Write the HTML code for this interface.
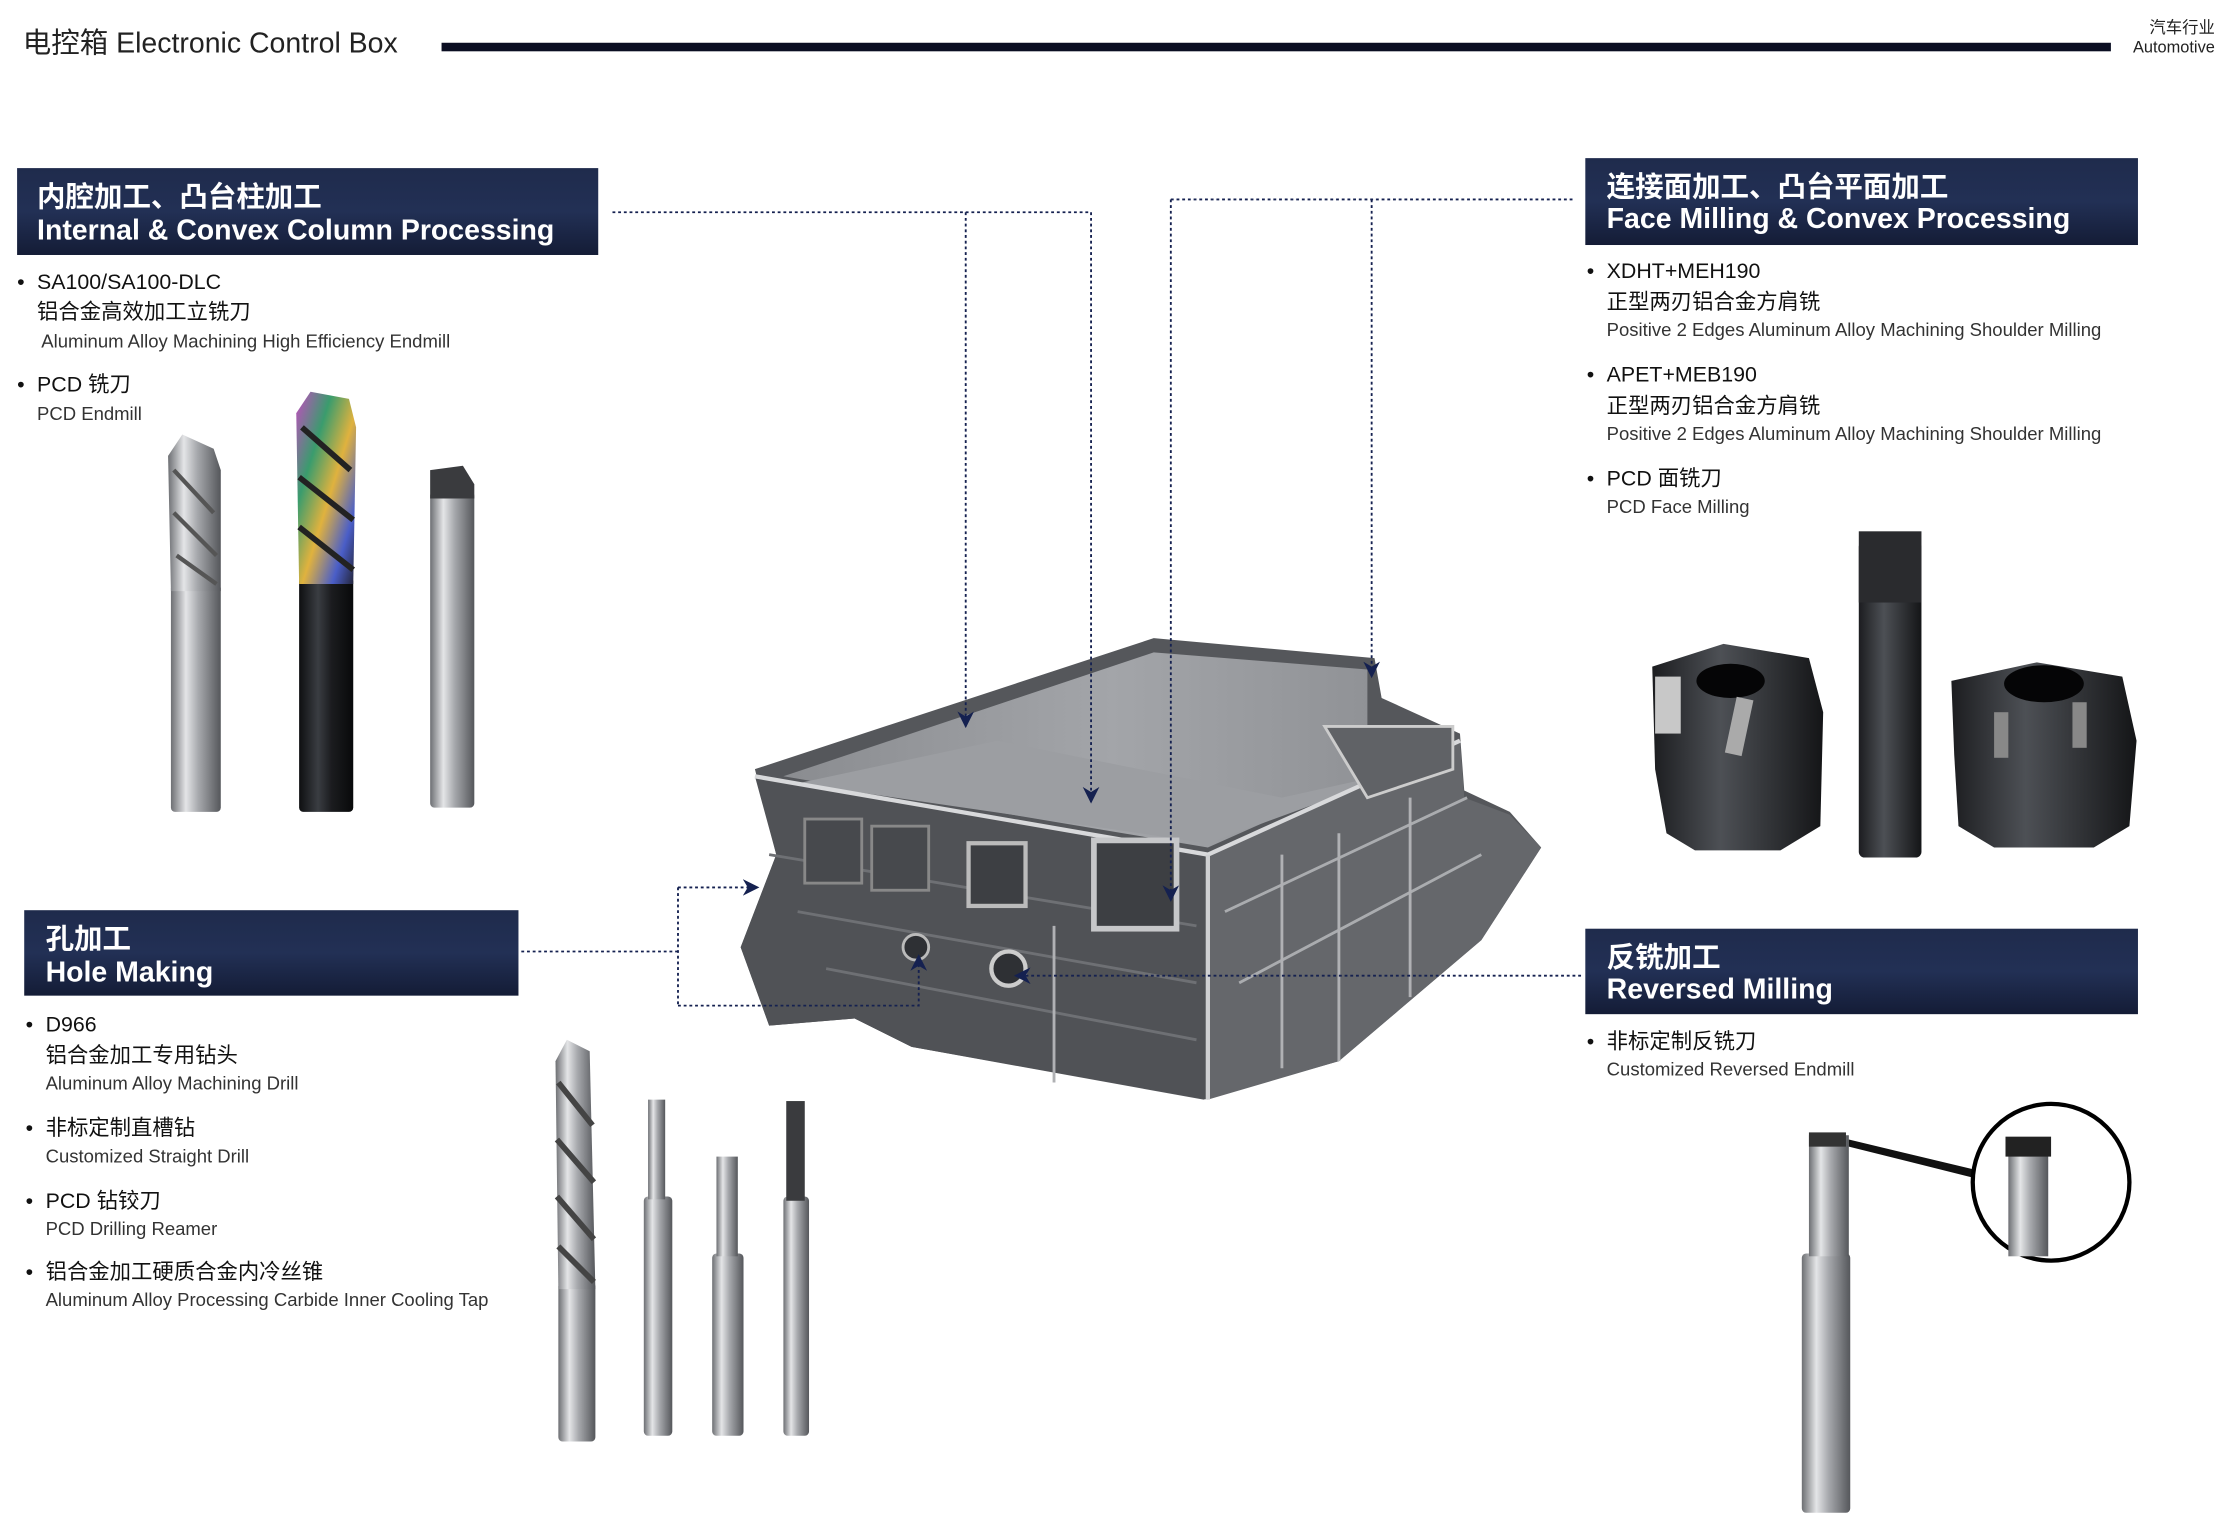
<!DOCTYPE html>
<html><head><meta charset="utf-8"><style>
html,body{margin:0;padding:0;background:#fff;}
svg{display:block;}
text{font-family:"Liberation Sans","Noto Sans CJK SC",sans-serif;}
</style></head><body>
<svg width="2222" height="1516" viewBox="0 0 1560 1064.3" xmlns="http://www.w3.org/2000/svg">
<defs>
<linearGradient id="box" x1="0" y1="0" x2="0" y2="1"><stop offset="0" stop-color="#1f2b4c"/><stop offset="0.5" stop-color="#223055"/><stop offset="1" stop-color="#141c36"/></linearGradient>
<linearGradient id="steel" x1="0" y1="0" x2="1" y2="0"><stop offset="0" stop-color="#6d6f73"/><stop offset="0.3" stop-color="#e4e5e7"/><stop offset="0.55" stop-color="#a7a9ad"/><stop offset="1" stop-color="#55575b"/></linearGradient>
<linearGradient id="dark" x1="0" y1="0" x2="1" y2="0"><stop offset="0" stop-color="#0e0f11"/><stop offset="0.35" stop-color="#3a3d42"/><stop offset="0.6" stop-color="#1b1c1f"/><stop offset="1" stop-color="#08090a"/></linearGradient>
<linearGradient id="rain" x1="0" y1="0" x2="1" y2="1"><stop offset="0" stop-color="#c34cc0"/><stop offset="0.3" stop-color="#3a9c6d"/><stop offset="0.55" stop-color="#e0b23e"/><stop offset="0.8" stop-color="#4a5ec8"/><stop offset="1" stop-color="#1f1f2a"/></linearGradient>
<linearGradient id="cut" x1="0" y1="0" x2="1" y2="0"><stop offset="0" stop-color="#1c1d20"/><stop offset="0.4" stop-color="#4d5055"/><stop offset="1" stop-color="#141517"/></linearGradient>
<linearGradient id="wall" x1="0" y1="0" x2="1" y2="0"><stop offset="0" stop-color="#8a8c90"/><stop offset="0.5" stop-color="#a3a5a9"/><stop offset="1" stop-color="#8b8d91"/></linearGradient>
<marker id="ar" viewBox="0 0 10 10" refX="9" refY="5" markerWidth="9" markerHeight="9" orient="auto"><path d="M0,0 L10,5 L0,10 L3,5 Z" fill="#152150"/></marker>
</defs>

<!-- header -->
<text x="16" y="37" font-size="20" fill="#222">电控箱 Electronic Control Box</text>
<rect x="310" y="30" width="1172" height="6" fill="#0b0e22"/>
<text x="1555" y="23" font-size="11.5" fill="#222" text-anchor="end">汽车行业</text>
<text x="1555" y="37" font-size="11.5" fill="#222" text-anchor="end">Automotive</text>

<!-- title boxes -->
<rect x="12" y="118" width="408" height="61" fill="url(#box)"/>
<text x="26" y="145" font-size="20" font-weight="bold" fill="#fff">内腔加工、凸台柱加工</text>
<text x="26" y="168" font-size="20" font-weight="bold" fill="#fff">Internal &amp; Convex Column Processing</text>

<rect x="1113" y="111" width="388" height="61" fill="url(#box)"/>
<text x="1128" y="138" font-size="20" font-weight="bold" fill="#fff">连接面加工、凸台平面加工</text>
<text x="1128" y="160" font-size="20" font-weight="bold" fill="#fff">Face Milling &amp; Convex Processing</text>

<rect x="17" y="639" width="347" height="60" fill="url(#box)"/>
<text x="32" y="666" font-size="20" font-weight="bold" fill="#fff">孔加工</text>
<text x="32" y="689" font-size="20" font-weight="bold" fill="#fff">Hole Making</text>

<rect x="1113" y="652" width="388" height="60" fill="url(#box)"/>
<text x="1128" y="679" font-size="20" font-weight="bold" fill="#fff">反铣加工</text>
<text x="1128" y="701" font-size="20" font-weight="bold" fill="#fff">Reversed Milling</text>

<!-- left bullets -->
<g fill="#111" font-size="15">
<text x="12" y="203">•</text><text x="26" y="203">SA100/SA100-DLC</text>
<text x="26" y="224">铝合金高效加工立铣刀</text>
<text x="12" y="275">•</text><text x="26" y="275">PCD 铣刀</text>
</g>
<g fill="#333" font-size="13">
<text x="29" y="244">Aluminum Alloy Machining  High Efficiency Endmill</text>
<text x="26" y="295">PCD Endmill</text>
</g>

<!-- right bullets -->
<g fill="#111" font-size="15">
<text x="1114" y="195">•</text><text x="1128" y="195">XDHT+MEH190</text>
<text x="1128" y="217">正型两刃铝合金方肩铣</text>
<text x="1114" y="268">•</text><text x="1128" y="268">APET+MEB190</text>
<text x="1128" y="290">正型两刃铝合金方肩铣</text>
<text x="1114" y="341">•</text><text x="1128" y="341">PCD 面铣刀</text>
<text x="1114" y="736">•</text><text x="1128" y="736">非标定制反铣刀</text>
</g>
<g fill="#333" font-size="13">
<text x="1128" y="236">Positive 2 Edges Aluminum Alloy Machining Shoulder Milling</text>
<text x="1128" y="309">Positive 2 Edges Aluminum Alloy Machining Shoulder Milling</text>
<text x="1128" y="360">PCD Face Milling</text>
<text x="1128" y="755">Customized Reversed Endmill</text>
</g>

<!-- hole bullets -->
<g fill="#111" font-size="15">
<text x="18" y="724">•</text><text x="32" y="724">D966</text>
<text x="32" y="746">铝合金加工专用钻头</text>
<text x="18" y="797">•</text><text x="32" y="797">非标定制直槽钻</text>
<text x="18" y="848">•</text><text x="32" y="848">PCD 钻铰刀</text>
<text x="18" y="898">•</text><text x="32" y="898">铝合金加工硬质合金内冷丝锥</text>
</g>
<g fill="#333" font-size="13">
<text x="32" y="765">Aluminum Alloy Machining Drill</text>
<text x="32" y="816">Customized Straight Drill</text>
<text x="32" y="867">PCD Drilling Reamer</text>
<text x="32" y="917">Aluminum Alloy Processing Carbide Inner Cooling Tap</text>
</g>

<!-- left endmills -->
<rect x="120" y="410" width="35" height="160" rx="3" fill="url(#steel)"/>
<path d="M120,415 L118,320 L128,305 L150,315 L155,330 L155,415 Z" fill="url(#steel)"/>
<path d="M122,330 L150,360 M122,360 L152,390 M124,390 L152,410" stroke="#555" stroke-width="3" fill="none"/>
<rect x="210" y="405" width="38" height="165" rx="3" fill="url(#dark)"/>
<path d="M210,410 L208,290 L218,275 L245,280 L250,300 L248,410 Z" fill="url(#rain)"/>
<path d="M212,300 L246,330 M210,335 L248,365 M210,370 L248,400" stroke="#222" stroke-width="4" fill="none"/>
<rect x="302" y="345" width="31" height="222" rx="3" fill="url(#steel)"/>
<path d="M302,350 L302,330 L325,327 L333,340 L333,350Z" fill="#3a3b3e"/>

<!-- right tools -->
<path d="M1160,468 L1210,452 L1270,462 L1280,500 L1278,580 L1250,597 L1190,597 L1170,585 L1162,540 Z" fill="url(#cut)"/>
<ellipse cx="1215" cy="478" rx="24" ry="12" fill="#050506"/>
<rect x="1215" y="490" width="12" height="40" fill="#aaa" transform="rotate(12 1221 510)"/>
<rect x="1162" y="475" width="18" height="40" fill="#c8c8c8"/>
<rect x="1305" y="380" width="44" height="222" rx="4" fill="url(#cut)"/>
<rect x="1305" y="373" width="44" height="50" fill="#2a2b2e"/>
<path d="M1370,478 L1430,465 L1490,475 L1500,520 L1495,580 L1470,595 L1400,595 L1375,580 L1372,530 Z" fill="url(#cut)"/>
<ellipse cx="1435" cy="480" rx="28" ry="13" fill="#050506"/>
<rect x="1455" y="493" width="10" height="32" fill="#888"/><rect x="1400" y="500" width="10" height="32" fill="#888"/>

<!-- drills -->
<rect x="392" y="900" width="26" height="112" rx="3" fill="url(#steel)"/>
<path d="M392,905 L390,745 L398,730 L414,738 L418,905 Z" fill="url(#steel)"/>
<path d="M392,760 L416,790 M391,800 L417,830 M391,840 L417,870 M392,875 L417,900" stroke="#444" stroke-width="4" fill="none"/>
<rect x="452" y="840" width="20" height="168" rx="3" fill="url(#steel)"/>
<rect x="455" y="772" width="12" height="70" fill="url(#steel)"/>
<rect x="500" y="880" width="22" height="128" rx="3" fill="url(#steel)"/>
<rect x="503" y="812" width="15" height="70" fill="url(#steel)"/>
<rect x="550" y="840" width="18" height="168" rx="3" fill="url(#steel)"/>
<rect x="552" y="773" width="13" height="70" fill="#3a3b3e"/>

<!-- reversed endmill -->
<rect x="1265" y="880" width="34" height="182" rx="3" fill="url(#steel)"/>
<rect x="1270" y="797" width="28" height="85" fill="url(#steel)"/>
<rect x="1270" y="795" width="26" height="10" fill="#333"/>
<path d="M1298,800 L1390,822 L1390,828 L1298,805Z" fill="#111"/>
<circle cx="1440" cy="830" r="55" fill="#fff" stroke="#000" stroke-width="3"/>
<rect x="1410" y="800" width="28" height="82" fill="url(#steel)"/>
<rect x="1408" y="798" width="32" height="14" fill="#222"/>

<!-- main part -->
<path d="M530,540 L810,448 L965,462 L970,490 L1025,515 L1028,555 L1060,570 L1082,595 L1040,660 L940,745 L845,772 L640,735 L600,715 L540,720 L520,665 L545,600 Z" fill="#55575b"/>
<!-- interior back walls -->
<path d="M550,545 L810,458 L960,470 L960,515 L1012,522 L848,595 Z" fill="url(#wall)"/>
<!-- floor -->
<path d="M560,550 L700,520 L900,560 L990,540 L848,592 Z" fill="#9c9ea2"/>
<!-- left face -->
<path d="M530,545 L848,600 L848,772 L640,735 L600,715 L540,720 L520,665 L545,600 Z" fill="#505256"/>
<!-- right face -->
<path d="M848,600 L1025,520 L1028,560 L1060,572 L1082,595 L1040,660 L940,745 L848,772 Z" fill="#65676b"/>
<path d="M530,545 L848,600 L1025,520" stroke="#d8d9db" stroke-width="3" fill="none"/>
<path d="M848,600 L848,772" stroke="#cfd0d2" stroke-width="3"/>
<path d="M540,600 L840,650 M560,640 L840,690 M580,680 L840,730" stroke="#6e7074" stroke-width="2" fill="none"/>
<path d="M860,640 L1030,560 M870,690 L1040,600" stroke="#aaacaf" stroke-width="2" fill="none"/>
<path d="M900,600 L900,750 M940,585 L940,745 M990,560 L990,700 M740,650 L740,760" stroke="#b0b1b4" stroke-width="2" fill="none"/>
<rect x="768" y="590" width="58" height="62" fill="#3d3f43" stroke="#c6c7c9" stroke-width="4"/>
<rect x="680" y="592" width="40" height="44" fill="#3d3f43" stroke="#bbb" stroke-width="3"/>
<rect x="565" y="575" width="40" height="45" fill="#47494d" stroke="#888" stroke-width="2"/>
<rect x="612" y="580" width="40" height="45" fill="#47494d" stroke="#888" stroke-width="2"/>
<circle cx="708" cy="680" r="12" fill="#2e3034" stroke="#ccc" stroke-width="3"/>
<circle cx="643" cy="665" r="9" fill="#2e3034" stroke="#bbb" stroke-width="2"/>
<path d="M930,510 L1020,510 L1020,540 L960,560 Z" fill="#606266" stroke="#ccc" stroke-width="2"/>

<!-- connectors -->
<g stroke="#152150" stroke-width="1.3" fill="none" stroke-dasharray="2,2">
<path d="M430,149 L766,149"/>
<path d="M678,149 L678,510" marker-end="url(#ar)"/>
<path d="M766,149 L766,563" marker-end="url(#ar)"/>
<path d="M822,140 L1105,140"/>
<path d="M822,140 L822,632" marker-end="url(#ar)"/>
<path d="M963,140 L963,475" marker-end="url(#ar)"/>
<path d="M366,668 L476,668"/>
<path d="M476,623 L476,706"/>
<path d="M476,623 L532,623" marker-end="url(#ar)"/>
<path d="M476,706 L645,706 L645,671" marker-end="url(#ar)"/>
<path d="M1110,685 L713,685" marker-end="url(#ar)"/>
</g>
</svg>
</body></html>
